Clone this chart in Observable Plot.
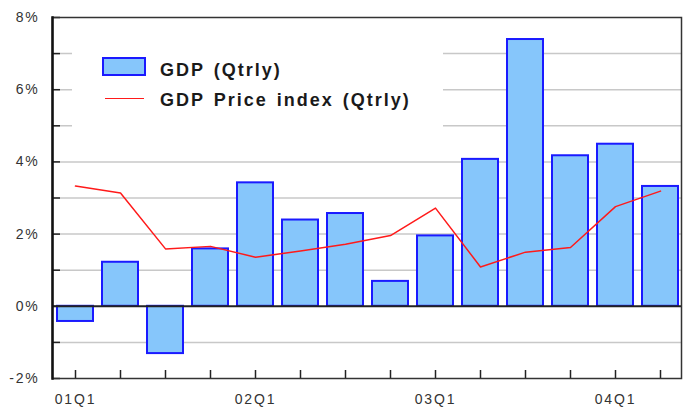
<!DOCTYPE html>
<html><head><meta charset="utf-8">
<script src="https://cdn.jsdelivr.net/npm/d3@7"></script>
<script src="https://cdn.jsdelivr.net/npm/@observablehq/plot@0.6"></script>
<style>
body{margin:0;background:#fff;}
#wrap{position:relative;width:683px;height:409px;font-family:"Liberation Sans",Arial,sans-serif;}
#wrap svg text{letter-spacing:1.8px;}
#legend{position:absolute;left:72px;top:19px;width:371px;height:126px;background:#fff;}
#legend .sw{position:absolute;left:30px;top:38px;width:44px;height:19px;box-sizing:border-box;background:#86c6fb;border:2px solid #1a1aff;}
#legend .ln{position:absolute;left:33px;top:79px;width:39px;height:0;border-top:1.5px solid #ff1a1a;}
#legend .t{position:absolute;left:88px;font-size:18px;line-height:18px;font-weight:bold;color:#1a1a1a;letter-spacing:2px;word-spacing:2px;white-space:nowrap;}
</style></head><body>
<div id="wrap"><div id="legend"><div class="sw"></div><div class="t" style="top:42px">GDP (Qtrly)</div><div class="ln"></div><div class="t" style="top:72px">GDP Price index (Qtrly)</div></div></div>
<script>
const quarters = ["01Q1","01Q2","01Q3","01Q4","02Q1","02Q2","02Q3","02Q4","03Q1","03Q2","03Q3","03Q4","04Q1","04Q2"];
const gdp = [-0.42, 1.22, -1.31, 1.59, 3.42, 2.39, 2.57, 0.69, 1.95, 4.07, 7.39, 4.17, 4.49, 3.32];
const priceIndex = [3.33, 3.14, 1.59, 1.66, 1.36, 1.53, 1.72, 1.96, 2.72, 1.09, 1.5, 1.63, 2.76, 3.19];
const labeledQuarters = ["01Q1","02Q1","03Q1","04Q1"];
const yTicks = [-2,-1,0,1,2,3,4,5,6,7,8];
const yLabels = [-2,0,2,4,6,8];

const data = quarters.map((q, i) => ({q, gdp: gdp[i], price: priceIndex[i]}));

const chart = Plot.plot({
  width: 683, height: 409,
  marginLeft: 52, marginRight: 2, marginTop: 17, marginBottom: 31,
  x: {domain: quarters, paddingInner: 0.21, paddingOuter: 0, insetLeft: 3.3, insetRight: 2.7, label: null},
  y: {domain: [-2, 8], label: null},
  style: {fontFamily: '"Liberation Sans", Arial, sans-serif', fontSize: "14px", color: "#333", background: "#fff"},
  marks: [
    Plot.ruleY(yTicks.filter(v => v !== 0 && v !== 8 && v !== -2), {stroke: "#c8c8c8", strokeWidth: 1.5}),
    Plot.barY(data, {x: "q", y: "gdp", fill: "#86c6fb", stroke: "#1a1aff", strokeWidth: 2}),
    Plot.ruleY([0], {stroke: "#222", strokeWidth: 2}),
    Plot.line(data, {x: "q", y: "price", stroke: "#ff1a1a", strokeWidth: 1.5}),
    Plot.axisY(yTicks, {tickSize: -8, tickFormat: () => "", stroke: "#222", strokeWidth: 1.5}),
    Plot.axisY(yLabels, {tickSize: 0, tickPadding: 13, tickFormat: d => `${d}%`, fill: "#333"}),
    Plot.axisX(quarters, {tickSize: -8, tickFormat: () => "", stroke: "#222", strokeWidth: 1.5}),
    Plot.axisX(labeledQuarters, {tickSize: 0, tickPadding: 16, tickFormat: d => d, fill: "#333"}),
    Plot.frame({stroke: "#333", strokeWidth: 1.5}),
    Plot.frame({anchor: "left", stroke: "#111", strokeWidth: 2.5})
  ]
});
document.getElementById("wrap").prepend(chart);
</script>
</body></html>
